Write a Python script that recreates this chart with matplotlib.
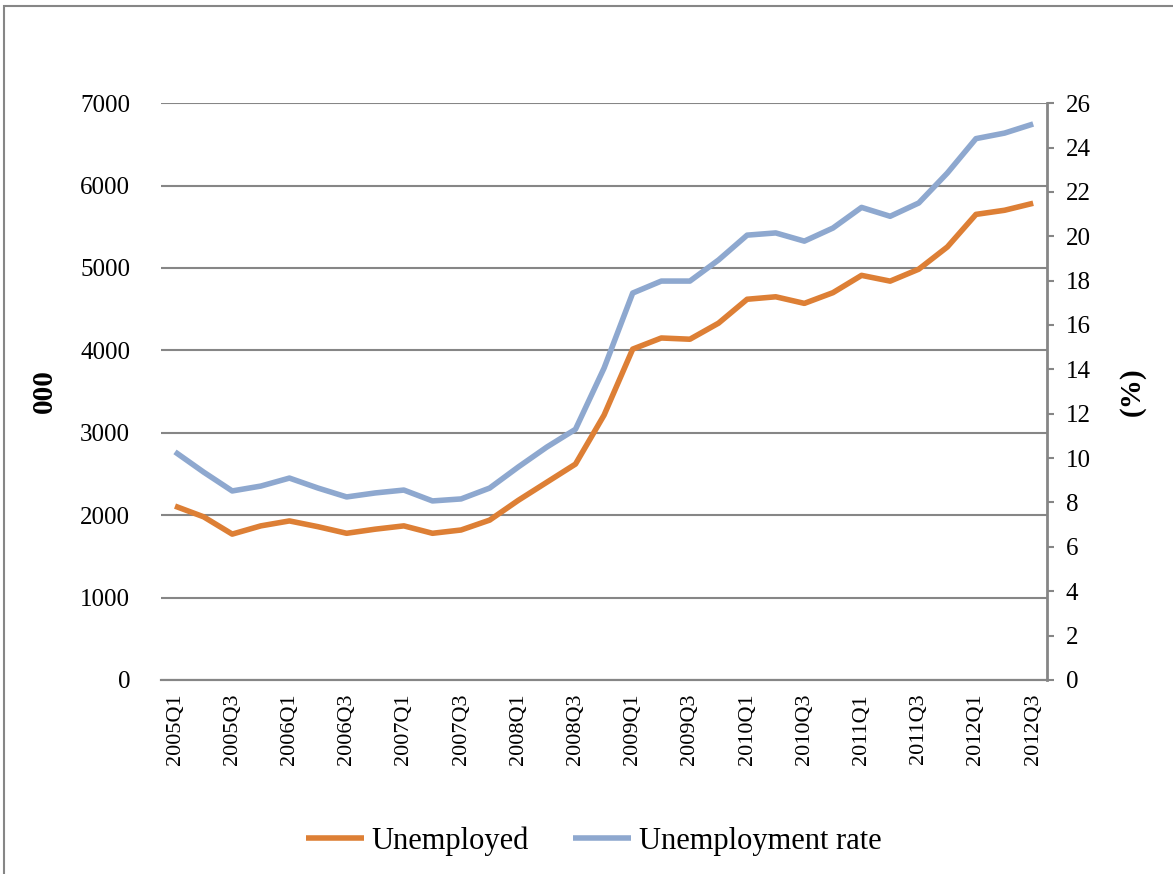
import matplotlib.pyplot as plt
from matplotlib.patches import Rectangle

quarters = [f"{y}Q{q}" for y in range(2005, 2013) for q in range(1, 5)][:31]

unemployed = [2110, 1980, 1770, 1870, 1930, 1860, 1780, 1830, 1870, 1780,
              1820, 1940, 2180, 2400, 2620, 3215, 4015, 4150, 4135, 4330,
              4620, 4650, 4570, 4700, 4910, 4840, 4985, 5255, 5650, 5700,
              5785]
rate = [10.28, 9.37, 8.52, 8.74, 9.10, 8.65, 8.25, 8.43, 8.56, 8.07,
        8.16, 8.65, 9.6, 10.5, 11.3, 14.06, 17.44, 17.98, 17.98, 18.93,
        20.05, 20.15, 19.78, 20.37, 21.3, 20.9, 21.5, 22.85, 24.4, 24.65,
        25.06]

plt.rcParams['font.family'] = ['Liberation Serif', 'DejaVu Serif']
grey = '#868686'
orange = '#DD7F35'
blue = '#8EA8CF'

fig = plt.figure(figsize=(11.73, 8.74), dpi=100)
ax = fig.add_axes([0.137, 0.222, 0.756, 0.66])
ax2 = ax.twinx()

x = list(range(len(quarters)))
l1, = ax.plot(x, unemployed, color=orange, lw=4, solid_capstyle='butt', label='Unemployed')
l2, = ax2.plot(x, rate, color=blue, lw=4, solid_capstyle='butt', label='Unemployment rate')

ax.set_xlim(-0.5, len(quarters) - 0.5)
ax.set_ylim(0, 7000)
ax.set_yticks(range(0, 7001, 1000))
ax2.set_ylim(0, 26)
ax2.set_yticks(range(0, 27, 2))

ax.set_xticks(x[::2])
ax.set_xticklabels(quarters[::2], rotation=90, fontsize=16)
ax.tick_params(axis='x', length=0, pad=10)
ax.tick_params(axis='y', length=0, labelsize=18, pad=22)
ax2.tick_params(axis='y', length=5, width=1.5, color=grey, labelsize=18, pad=8)

ax.grid(axis='y', color=grey, lw=1.5)
ax.set_axisbelow(True)
for a in (ax, ax2):
    a.spines['top'].set_visible(False)
    a.spines['left'].set_visible(False)
    a.spines['right'].set_visible(False)
    a.spines['bottom'].set_color(grey)
    a.spines['bottom'].set_linewidth(1.5)
ax2.spines['right'].set_visible(True)
ax2.spines['right'].set_color(grey)
ax2.spines['right'].set_linewidth(2)

ax.set_ylabel('000', fontsize=21, fontweight='bold', labelpad=16)
ax2.set_ylabel('(%)', fontsize=21, fontweight='bold', labelpad=20)

fig.legend([l1, l2], ['Unemployed', 'Unemployment rate'], loc='center',
           bbox_to_anchor=(0.506, 0.038), ncol=2, frameon=False, fontsize=22,
           handlelength=1.9, columnspacing=1.45, handletextpad=0.25)

fig.patches.append(Rectangle((0.003, -0.01), 1.2, 1.003, transform=fig.transFigure,
                             fill=False, edgecolor=grey, lw=1.5))

fig.savefig('out.png', dpi=100)
